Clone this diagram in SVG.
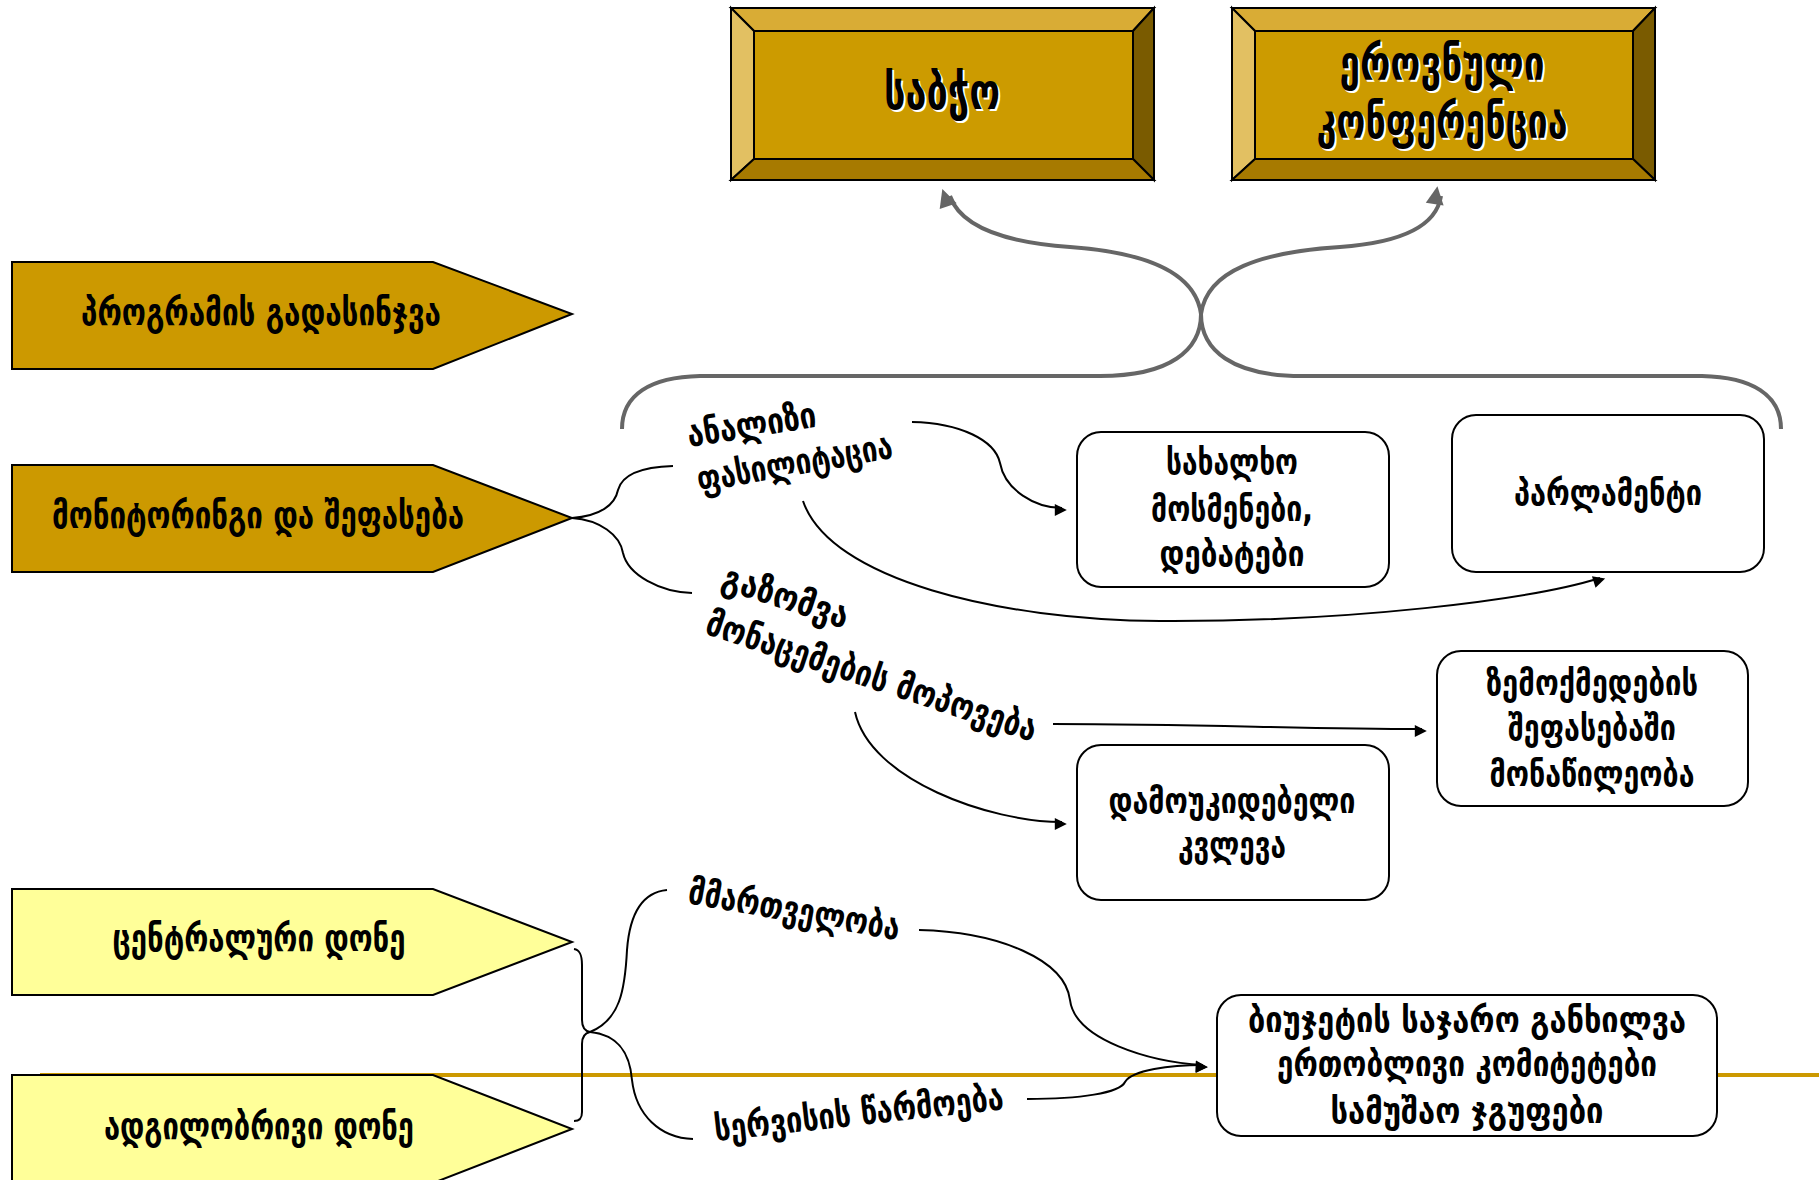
<svg xmlns="http://www.w3.org/2000/svg" width="1819" height="1180" viewBox="0 0 1819 1180">
<defs>
<style>
.t{font-family:"DejaVu Sans Condensed","DejaVu Sans",sans-serif;font-weight:bold;fill:#000;}
.m{text-anchor:middle;}
.sh{fill:#fff;}
.pg{fill:#CC9900;stroke:#000;stroke-width:2;}
.py{fill:#FFFF99;stroke:#000;stroke-width:2;}
.rb{fill:#fff;stroke:#000;stroke-width:2;}
.c{fill:none;stroke:#000;stroke-width:2;}
.g{fill:none;stroke:#666;stroke-width:4;}
.bt{fill:#D9AC35;stroke:#000;stroke-width:2;}
.bl{fill:#E2C062;stroke:#000;stroke-width:2;}
.br{fill:#7A5B00;stroke:#000;stroke-width:2;}
.bb{fill:#A77A00;stroke:#000;stroke-width:2;}
.bc{fill:#CC9B00;stroke:#000;stroke-width:2;}
</style>
<marker id="a" viewBox="0 0 10 10" refX="9" refY="5" markerWidth="8" markerHeight="8" markerUnits="userSpaceOnUse" orient="auto" style="overflow:visible">
<path d="M0,0 L10,5 L0,10 z" fill="#000" transform="scale(1.5)"/>
</marker>
<marker id="ga" viewBox="0 0 10 10" refX="5" refY="5" markerWidth="10" markerHeight="10" orient="auto" markerUnits="userSpaceOnUse" style="overflow:visible">
<path d="M-4,-9 L14,0 L-4,9 z" fill="#666"/>
</marker>
</defs>
<rect width="1819" height="1180" fill="#fff"/>

<line x1="40" y1="1075" x2="1819" y2="1075" stroke="#CC9900" stroke-width="4"/>

<g id="connectors">
<path class="g" d="M622,429 C622,395 650,377 700,376 L1100,376 C1170,376 1201,350 1201,314"/>
<path class="g" d="M1781,429 C1781,395 1752,377 1702,376 L1302,376 C1232,376 1201,350 1201,314"/>
<path class="g" d="M1201,314 C1195,270 1140,252 1070,247 C1000,242 960,225 950,196" marker-end="url(#ga)"/>
<path class="g" d="M1201,314 C1207,270 1262,252 1340,247 C1410,242 1437,222 1441,196" marker-end="url(#ga)"/>
<path class="c" d="M572,518 C600,516 615,505 618,490 C622,475 640,467 673,466"/>
<path class="c" d="M572,518 C600,520 620,535 623,553 C628,575 660,592 692,593"/>
<path class="c" d="M912,422 C960,423 995,440 1000,463 C1005,490 1035,508 1062,508" marker-end="url(#a)"/>
<path class="c" d="M803,501 C830,580 1000,620 1160,621 C1350,622 1530,600 1600,578" marker-end="url(#a)"/>
<path class="c" d="M1053,724 C1200,724 1300,729 1422,729" marker-end="url(#a)"/>
<path class="c" d="M855,712 C870,780 990,822 1062,822" marker-end="url(#a)"/>
<path class="c" d="M574,949 C580,950 582,955 582,965 L582,1020 C582,1028 585,1031 590,1032 C585,1033 582,1036 582,1044 L582,1112 C582,1118 580,1121 574,1121"/>
<path class="c" d="M590,1032 C620,1020 625,990 627,950 C630,910 645,892 667,890"/>
<path class="c" d="M590,1032 C620,1035 630,1055 632,1080 C636,1115 660,1138 693,1139"/>
<path class="c" d="M919,930 C1000,932 1065,960 1070,1000 C1075,1040 1150,1062 1203,1065" marker-end="url(#a)"/>
<path class="c" d="M1027,1099 C1080,1099 1120,1093 1125,1082 C1132,1070 1170,1065 1203,1065" marker-end="url(#a)"/>
</g>

<g id="sabcho">
<rect class="bc" x="731" y="8" width="423" height="172"/>
<polygon class="bt" points="731,8 1154,8 1133,31 754,31"/>
<polygon class="bl" points="731,8 754,31 754,159 731,180"/>
<polygon class="br" points="1154,8 1154,180 1133,159 1133,31"/>
<polygon class="bb" points="731,180 754,159 1133,159 1154,180"/>
<rect class="bc" x="754" y="31" width="379" height="128"/>
<text class="t m sh" x="944" y="111" font-size="50" textLength="116" lengthAdjust="spacingAndGlyphs">საბჭო</text>
<text class="t m" x="942" y="109" font-size="50" textLength="116" lengthAdjust="spacingAndGlyphs">საბჭო</text>
</g>

<g id="conference">
<rect class="bc" x="1232" y="8" width="423" height="172"/>
<polygon class="bt" points="1232,8 1655,8 1633,31 1255,31"/>
<polygon class="bl" points="1232,8 1255,31 1255,159 1232,180"/>
<polygon class="br" points="1655,8 1655,180 1633,159 1633,31"/>
<polygon class="bb" points="1232,180 1255,159 1633,159 1655,180"/>
<rect class="bc" x="1255" y="31" width="378" height="128"/>
<text class="t m sh" x="1444" y="82" font-size="48" textLength="205" lengthAdjust="spacingAndGlyphs">ეროვნული</text>
<text class="t m" x="1442" y="80" font-size="48" textLength="205" lengthAdjust="spacingAndGlyphs">ეროვნული</text>
<text class="t m sh" x="1444" y="140" font-size="48" textLength="251" lengthAdjust="spacingAndGlyphs">კონფერენცია</text>
<text class="t m" x="1442" y="138" font-size="48" textLength="251" lengthAdjust="spacingAndGlyphs">კონფერენცია</text>
</g>

<g id="revision">
<polygon class="pg" points="12,262 433,262 572,314 433,369 12,369"/>
<text class="t m" x="261" y="325" font-size="38" textLength="360" lengthAdjust="spacingAndGlyphs">პროგრამის გადასინჯვა</text>
</g>

<g id="monitoring">
<polygon class="pg" points="12,465 433,465 572,518 433,572 12,572"/>
<text class="t m" x="258" y="528" font-size="38" textLength="412" lengthAdjust="spacingAndGlyphs">მონიტორინგი და შეფასება</text>
</g>

<g id="central">
<polygon class="py" points="12,889 433,889 572,942 433,995 12,995"/>
<text class="t m" x="259" y="951" font-size="38" textLength="293" lengthAdjust="spacingAndGlyphs">ცენტრალური დონე</text>
</g>

<g id="local">
<polygon class="py" points="12,1075 433,1075 572,1129 433,1183 12,1183"/>
<text class="t m" x="259" y="1139" font-size="38" textLength="310" lengthAdjust="spacingAndGlyphs">ადგილობრივი დონე</text>
</g>

<g id="hearings">
<rect class="rb" x="1077" y="432" width="312" height="155" rx="24"/>
<text class="t m" x="1232" y="474" font-size="36" textLength="132" lengthAdjust="spacingAndGlyphs">სახალხო</text>
<text class="t m" x="1232" y="521" font-size="36" textLength="162" lengthAdjust="spacingAndGlyphs">მოსმენები,</text>
<text class="t m" x="1232" y="566" font-size="36" textLength="145" lengthAdjust="spacingAndGlyphs">დებატები</text>
</g>

<g id="parliament">
<rect class="rb" x="1452" y="415" width="312" height="157" rx="24"/>
<text class="t m" x="1608" y="505" font-size="36" textLength="188" lengthAdjust="spacingAndGlyphs">პარლამენტი</text>
</g>

<g id="impact">
<rect class="rb" x="1437" y="651" width="311" height="155" rx="24"/>
<text class="t m" x="1592" y="695" font-size="36" textLength="212" lengthAdjust="spacingAndGlyphs">ზემოქმედების</text>
<text class="t m" x="1592" y="740" font-size="36" textLength="168" lengthAdjust="spacingAndGlyphs">შეფასებაში</text>
<text class="t m" x="1592" y="786" font-size="36" textLength="205" lengthAdjust="spacingAndGlyphs">მონაწილეობა</text>
</g>

<g id="research">
<rect class="rb" x="1077" y="745" width="312" height="155" rx="24"/>
<text class="t m" x="1232" y="813" font-size="36" textLength="247" lengthAdjust="spacingAndGlyphs">დამოუკიდებელი</text>
<text class="t m" x="1232" y="857" font-size="36" textLength="108" lengthAdjust="spacingAndGlyphs">კვლევა</text>
</g>

<g id="budget">
<rect class="rb" x="1217" y="995" width="500" height="141" rx="24"/>
<text class="t m" x="1467" y="1032" font-size="36" textLength="438" lengthAdjust="spacingAndGlyphs">ბიუჯეტის საჯარო განხილვა</text>
<text class="t m" x="1467" y="1076" font-size="36" textLength="380" lengthAdjust="spacingAndGlyphs">ერთობლივი კომიტეტები</text>
<text class="t m" x="1467" y="1123" font-size="36" textLength="273" lengthAdjust="spacingAndGlyphs">სამუშაო ჯგუფები</text>
</g>

<g id="labels">
<text class="t" font-size="36" transform="translate(690,452) rotate(-9)" y="-5" textLength="130" lengthAdjust="spacingAndGlyphs">ანალიზი</text>
<text class="t" font-size="36" transform="translate(700,497) rotate(-10)" y="-5" textLength="198" lengthAdjust="spacingAndGlyphs">ფასილიტაცია</text>
<text class="t" font-size="36" transform="translate(718,593) rotate(18)" y="-5" textLength="131" lengthAdjust="spacingAndGlyphs">გაზომვა</text>
<text class="t" font-size="36" transform="translate(702,638) rotate(18.3)" y="-5" textLength="346" lengthAdjust="spacingAndGlyphs">მონაცემების მოპოვება</text>
<text class="t" font-size="36" transform="translate(686,908) rotate(10)" y="-5" textLength="214" lengthAdjust="spacingAndGlyphs">მმართველობა</text>
<text class="t" font-size="36" transform="translate(716,1146) rotate(-6.3)" y="-5" textLength="291" lengthAdjust="spacingAndGlyphs">სერვისის წარმოება</text>
</g>
</svg>
